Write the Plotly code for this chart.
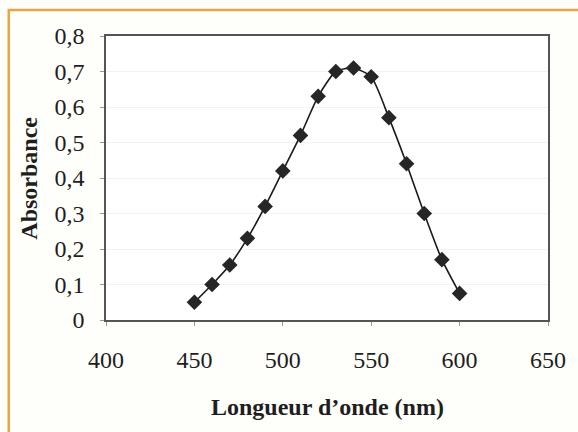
import plotly.graph_objects as go

wavelength = [450, 460, 470, 480, 490, 500, 510, 520, 530, 540, 550, 560, 570, 580, 590, 600]
absorbance = [0.05, 0.10, 0.155, 0.23, 0.32, 0.42, 0.52, 0.63, 0.70, 0.71, 0.685, 0.57, 0.44, 0.30, 0.17, 0.075]

x_title = "Longueur d\u2019onde (nm)"
y_title = "Absorbance"

font_family = "Liberation Serif, Times New Roman, serif"

fig = go.Figure()
fig.add_trace(go.Scatter(
    x=wavelength, y=absorbance, mode="lines+markers",
    line=dict(color="#1a1a1a", width=1.6, shape="spline", smoothing=0.6),
    marker=dict(symbol="diamond", size=12, color="#262626"),
    showlegend=False,
))

axis_common = dict(
    showline=True, linecolor="#555555", linewidth=1.5, mirror=True,
    ticks="outside", ticklen=4, tickcolor="#999999",
    tickfont=dict(family=font_family, size=24, color="#1e1e1e"),
    zeroline=False,
    gridcolor="#f2f2f2", gridwidth=1,
)

fig.update_xaxes(range=[400, 650], tickvals=[400, 450, 500, 550, 600, 650],
                 ticklabelstandoff=13, showgrid=False, **axis_common)
fig.update_yaxes(range=[0, 0.8], dtick=0.1, ticklabelstandoff=11, showgrid=True, **axis_common)

fig.update_layout(
    width=578, height=432,
    margin=dict(l=106, r=22, t=36, b=112),
    paper_bgcolor="#fefefa", plot_bgcolor="#ffffff",
    separators=", ",
    annotations=[
        dict(text=x_title, xref="paper", yref="paper", x=0.5, y=-0.306, yanchor="middle",
             showarrow=False, font=dict(family=font_family, size=24, color="#1e1e1e", weight="bold")),
        dict(text=y_title, xref="paper", yref="paper", x=-0.175, xanchor="center", y=0.5, textangle=-90,
             showarrow=False, font=dict(family=font_family, size=24, color="#1e1e1e", weight="bold")),
    ],
    shapes=[
        dict(type="rect", xref="paper", yref="paper", x0=-0.22, x1=1.2, y0=-0.5, y1=1.0915,
             line=dict(color="#e8a548", width=2.5), layer="below"),
    ],
)

fig.write_html("out.html")
